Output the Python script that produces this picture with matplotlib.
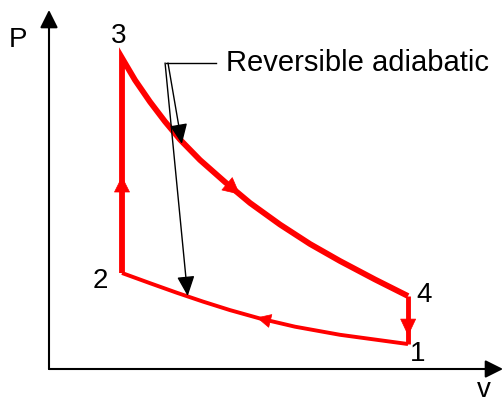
import numpy as np
import matplotlib
matplotlib.use("Agg")
import matplotlib.pyplot as plt

plt.rcParams['font.family'] = ['Liberation Sans', 'DejaVu Sans']

# state points of the cycle (v, P) in arbitrary units
state_labels = ["1", "2", "3", "4"]
v_state = [4.92, 1.00, 1.00, 4.92]
p_state = [1.04, 4.00, 12.96, 3.04]

# 3 -> 4 reversible adiabatic expansion
v_exp = [1.000, 1.178, 1.384, 1.589, 1.795, 2.068, 2.411, 2.753, 3.164, 3.575, 3.986, 4.466, 4.918]
p_exp = [12.96, 12.04, 11.13, 10.31, 9.56, 8.71, 7.79, 6.92, 6.02, 5.21, 4.50, 3.73, 3.04]

# 1 -> 2 reversible adiabatic compression
v_comp = [4.918, 3.986, 3.370, 2.890, 2.479, 2.110, 1.753, 1.384, 1.000]
p_comp = [1.04, 1.425, 1.763, 2.104, 2.454, 2.808, 3.175, 3.575, 4.00]

note = "Reversible adiabatic"

fig = plt.figure(figsize=(5.04, 4.04), dpi=100)
ax = fig.add_axes([0, 0, 1, 1])
ax.set_xlim(-49 / 73, 455 / 73)
ax.set_ylim(-35 / 24, 369 / 24)
ax.axis('off')

red = '#ff0000'

# axes with arrows
axis_style = dict(arrowstyle='-|>,head_length=1.08,head_width=0.54', color='black',
                  lw=1.5, shrinkA=0, shrinkB=0, mutation_scale=10)
ax.annotate('', xy=(0, 14.96), xytext=(0, 0), arrowprops=axis_style, annotation_clip=False)
ax.annotate('', xy=(6.22, 0), xytext=(0, 0), arrowprops=axis_style, annotation_clip=False)

# cycle
v23 = [v_state[1], v_state[2]]
p23 = [p_state[1], p_state[2]]
v41 = [v_state[3], v_state[0]]
p41 = [p_state[3], p_state[0]]
ax.plot(v23 + v_exp[1:], p23 + p_exp[1:], color=red, lw=4.2,
        solid_joinstyle='miter', solid_capstyle='butt')
ax.plot(v41, p41, color=red, lw=3.5, solid_capstyle='butt')
ax.plot(v_comp, p_comp, color=red, lw=2.8, solid_capstyle='butt', solid_joinstyle='round')


def flow_arrow(vs, ps, frac, hl=1.08, hw=0.54, back=12):
    pts = ax.transData.transform(np.column_stack([vs, ps]))
    s = np.concatenate([[0], np.cumsum(np.hypot(*np.diff(pts, axis=0).T))])
    at = frac * s[-1]
    tip = [np.interp(at, s, pts[:, 0]), np.interp(at, s, pts[:, 1])]
    tail = [np.interp(at - back, s, pts[:, 0]), np.interp(at - back, s, pts[:, 1])]
    inv = ax.transData.inverted()
    ax.annotate('', xy=inv.transform(tip), xytext=inv.transform(tail),
                arrowprops=dict(arrowstyle=f'-|>,head_length={hl},head_width={hw}',
                                color=red, lw=0.5, shrinkA=0, shrinkB=0, mutation_scale=10))


flow_arrow(v23, p23, 0.45)
flow_arrow(v_exp, p_exp, 0.48, hl=1.15, hw=0.58)
flow_arrow(v_comp, p_comp, 0.52, hl=0.95, hw=0.47)
flow_arrow(v41, p41, 0.83, hl=1.15, hw=0.54)

# leader lines to both adiabats
lead_style = dict(arrowstyle='-|>,head_length=1.22,head_width=0.54', color='black',
                  lw=1.0, shrinkA=0, shrinkB=0, mutation_scale=10)
ax.plot([1.60, 2.29], [12.75, 12.75], color='black', lw=1.0)
ax.annotate('', xy=(1.82, 9.38), xytext=(1.63, 12.75), arrowprops=lead_style)
ax.annotate('', xy=(1.90, 3.04), xytext=(1.59, 12.75), arrowprops=lead_style)
ax.text(2.43, 12.42, note, fontsize=21, ha='left', va='baseline')

# labels
fs = 20
label_pos = {"1": (5.05, 0.33), "2": (0.70, 3.38), "3": (0.96, 13.58), "4": (5.14, 2.79)}
for lab in state_labels:
    x, y = label_pos[lab]
    ax.text(x, y, lab, fontsize=fs, ha='center', va='baseline')
ax.text(-0.43, 13.42, "P", fontsize=fs, ha='center', va='baseline')
ax.text(5.96, -1.18, "v", fontsize=fs, ha='center', va='baseline')

fig.savefig("out.png", dpi=100)
